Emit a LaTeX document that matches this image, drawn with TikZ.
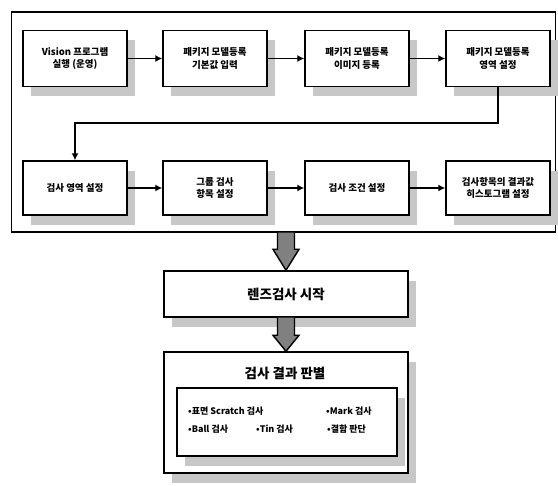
\documentclass[tikz,border=0pt]{standalone}
\usepackage{fontspec}
\setmainfont{Noto Sans CJK KR}
\usetikzlibrary{arrows.meta,shadows,calc}
\tikzset{
  box/.style={draw=black, line width=1.4pt, fill=white, align=center,
    inner sep=2pt, font=\fontsize{9.5}{12.5}\selectfont\bfseries,
    drop shadow={shadow xshift=8pt, shadow yshift=-10pt, fill=black!22, opacity=1}},
  rbox/.style={box, minimum width=104pt, minimum height=56pt},
  rboxb/.style={box, minimum width=104pt, minimum height=54pt},
  arr/.style={draw=black, line width=1.3pt, -{Latex[length=7pt,width=7pt]}},
  fat/.style={draw=black, line width=1.4pt, fill=black!50, line join=miter},
  item/.style={anchor=west, inner sep=0pt, font=\fontsize{9}{10}\selectfont\bfseries},
  bigtext/.style={font=\fontsize{13.5}{15}\selectfont\bfseries},
}
\begin{document}
\begin{tikzpicture}[x=1pt,y=-1pt]
\useasboundingbox (0,0) rectangle (558,486);
% outer frame
\node[draw=black, line width=1.5pt, minimum width=544pt, minimum height=220pt, inner sep=0pt] (outer) at (283.5,122) {};
% row 1
\node[rbox] (b1) at (75,58.5) {Vision 프로그램\\실행 (운영)};
\node[rbox] (b2) at (215,58.5) {패키지 모델등록\\기본값 입력};
\node[rbox] (b3) at (357,58.5) {패키지 모델등록\\이미지 등록};
\node[rbox] (b4) at (498,58.5) {패키지 모델등록\\영역 설정};
% row 2
\node[rboxb] (b5) at (75,188) {검사 영역 설정};
\node[rboxb] (b6) at (215,188) {그룹 검사\\항목 설정};
\node[rboxb] (b7) at (357,188) {검사 조건 설정};
\node[rboxb] (b8) at (498,188) {검사항목의 결과값\\히스토그램 설정};
% arrows
\draw[arr] (b1.east) -- (b2.west);
\draw[arr] (b2.east) -- (b3.west);
\draw[arr] (b3.east) -- (b4.west);
\coordinate (t1) at (498,123);
\coordinate (t2) at (75,123);
\draw[arr] (b4.south) -- (t1) -- (t2) -- (b5.north);
\draw[arr] (b5.east) -- (b6.west);
\draw[arr] (b6.east) -- (b7.west);
\draw[arr] (b7.east) -- (b8.west);
% middle box
\node[box, bigtext, minimum width=244pt, minimum height=46pt] (mid) at (286,294) {렌즈검사 시작};
% result box
\node[box, minimum width=244pt, minimum height=121pt] (res) at (286,412.5) {};
\node[inner sep=0pt, bigtext] (restitle) at (285,373) {검사 결과 판별};
\node[box, minimum width=220pt, minimum height=68pt] (inner) at (287,422) {};
\node[item] (i1) at (188,411) {•표면 Scratch 검사};
\node[item] (i2) at (326,411) {•Mark 검사};
\node[item] (i3) at (188,429) {•Ball 검사};
\node[item] (i4) at (256,429) {•Tin 검사};
\node[item] (i5) at (327,429) {•결함 판단};
% fat arrows
\coordinate (fa) at (outer.south -| mid.north);
\draw[fat] ($(fa)+(-8.5,0)$) -- ($(mid.north)+(-8.5,-21)$) -- ($(mid.north)+(-13,-21)$)
  -- (mid.north) -- ($(mid.north)+(13,-21)$) -- ($(mid.north)+(8.5,-21)$) -- ($(fa)+(8.5,0)$);
\coordinate (fb) at (mid.south);
\draw[fat] ($(fb)+(-8.5,0)$) -- ($(res.north)+(-8.5,-16)$) -- ($(res.north)+(-13,-16)$)
  -- (res.north) -- ($(res.north)+(13,-16)$) -- ($(res.north)+(8.5,-16)$) -- ($(fb)+(8.5,0)$);
\end{tikzpicture}
\end{document}
